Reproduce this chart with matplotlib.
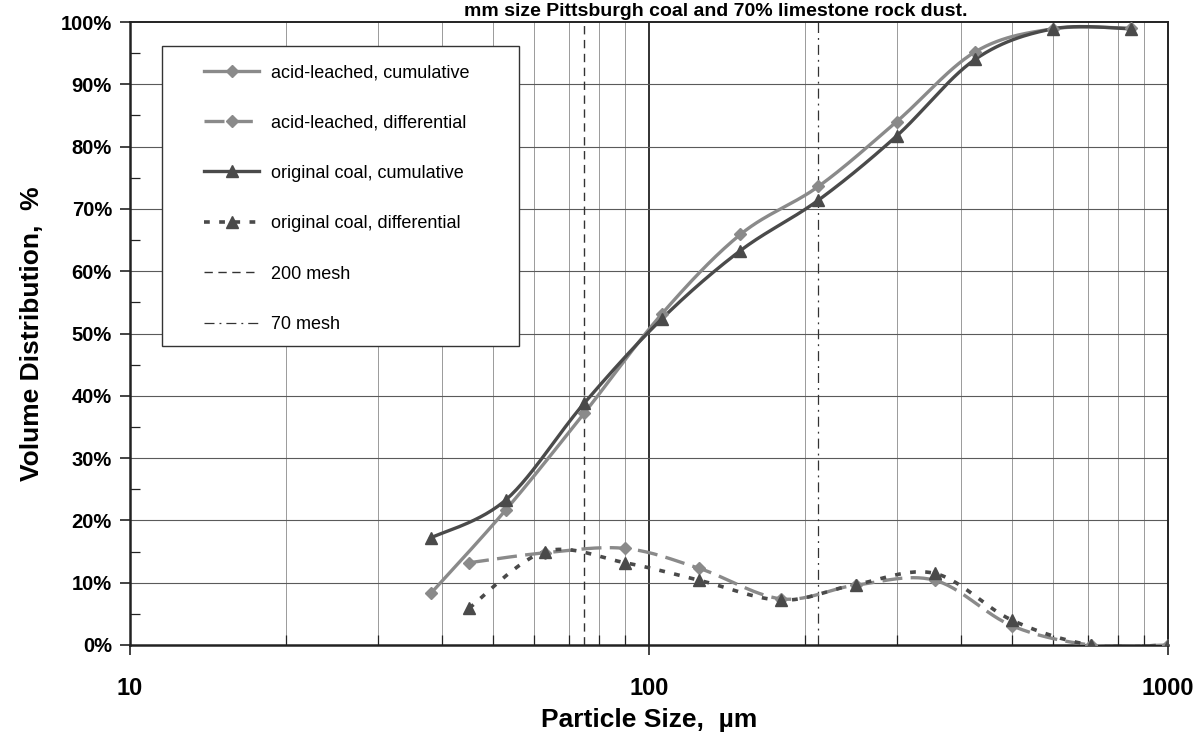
import numpy as np
import matplotlib.pyplot as plt
from matplotlib.lines import Line2D
from matplotlib.patches import Rectangle
from matplotlib.ticker import FixedLocator, NullFormatter, FuncFormatter

# Data (particle size in um, volume %)
cum_size = [38, 53, 75, 106, 150, 212, 300, 425, 600, 850]
diff_size = [45, 63, 90, 125, 180, 250, 355, 500, 710, 1000]
acid_cum = [8.3, 21.7, 37.2, 53.2, 65.9, 73.6, 84.0, 95.2, 98.9, 99.0]
coal_cum = [17.2, 23.3, 38.8, 52.4, 63.3, 71.4, 81.7, 94.0, 98.9, 98.9]
acid_diff = [13.2, 14.8, 15.5, 12.3, 7.4, 9.6, 10.4, 3.1, 0.0, 0.0]
coal_diff = [5.9, 15.0, 13.2, 10.4, 7.2, 9.7, 11.5, 4.0, 0.0, 0.0]
mesh_200 = 75
mesh_70 = 212

labels = ['acid-leached, cumulative', 'acid-leached, differential',
          'original coal, cumulative', 'original coal, differential',
          '200 mesh', '70 mesh']

LIGHT = '#8a8a8a'
DARK = '#4a4a4a'
NARROW = ['Liberation Sans Narrow', 'Liberation Sans', 'DejaVu Sans']


def smooth(xs, ys, n=30):
    """Excel-like smoothed line: cubic Bezier through the points, built in
    screen-like units (log x)."""
    u = np.log10(xs) * 519.0
    v = np.asarray(ys, dtype=float) * 6.23
    pts = np.column_stack([u, v])
    p = np.vstack([pts[0], pts, pts[-1]])
    t = np.linspace(0, 1, n)[:, None]
    out = []
    for i in range(1, len(p) - 2):
        p0, p1, p2, p3 = p[i - 1], p[i], p[i + 1], p[i + 2]
        c1 = p1 + (p2 - p0) / 6
        c2 = p2 - (p3 - p1) / 6
        seg = (1 - t)**3 * p1 + 3 * (1 - t)**2 * t * c1 + 3 * (1 - t) * t**2 * c2 + t**3 * p2
        out.append(seg if i == 1 else seg[1:])
    seg = np.vstack(out)
    return 10 ** (seg[:, 0] / 519.0), seg[:, 1] / 6.23


plt.rcParams['font.family'] = ['Liberation Sans', 'DejaVu Sans']

fig = plt.figure(figsize=(11.93, 7.42), dpi=100)
ax = fig.add_axes([130 / 1193, 97 / 742, 1038 / 1193, 623 / 742])

ax.set_xscale('log')
ax.set_xlim(10, 1000)
ax.set_ylim(0, 100)

# grid
minor_x = [k * 10**d for d in (1, 2) for k in range(2, 10)]
for xv in minor_x:
    ax.axvline(xv, color='#9a9a9a', lw=0.7, zorder=1)
ax.axvline(100, color='#222222', lw=1.3, zorder=1)
for yv in range(10, 100, 10):
    ax.axhline(yv, color='#5a5a5a', lw=0.8, zorder=1)

# mesh lines
ax.axvline(mesh_200, color='#333333', lw=1.0, ls=(0, (6, 4)), zorder=2)
ax.axvline(mesh_70, color='#333333', lw=0.9, ls=(0, (8, 4, 1.5, 4)), zorder=2)

# curves
sx, sy = smooth(cum_size, acid_cum)
ax.plot(sx, sy, color=LIGHT, lw=2.4, zorder=3)
sx, sy = smooth(diff_size, acid_diff)
ax.plot(sx, sy, color=LIGHT, lw=2.4, ls=(0, (6, 2.5)), zorder=3)
sx, sy = smooth(cum_size, coal_cum)
ax.plot(sx, sy, color=DARK, lw=2.4, zorder=3)
sx, sy = smooth(diff_size, coal_diff)
ax.plot(sx, sy, color=DARK, lw=2.6, ls=(0, (1.6, 2.6)), zorder=3)

ax.plot(cum_size, acid_cum, 'D', color=LIGHT, ms=6, zorder=4)
ax.plot(diff_size, acid_diff, 'D', color=LIGHT, ms=6, zorder=4)
ax.plot(cum_size, coal_cum, '^', color=DARK, ms=8, zorder=4)
ax.plot(diff_size, coal_diff, '^', color=DARK, ms=8, zorder=4)

# ticks
ax.xaxis.set_major_locator(FixedLocator([10, 100, 1000]))
ax.xaxis.set_minor_locator(FixedLocator(minor_x))
ax.xaxis.set_major_formatter(FuncFormatter(lambda v, p: f'{v:.0f}'))
ax.xaxis.set_minor_formatter(NullFormatter())
ax.yaxis.set_major_locator(FixedLocator(range(0, 101, 10)))
ax.yaxis.set_minor_locator(FixedLocator(range(5, 100, 10)))
ax.yaxis.set_major_formatter(FuncFormatter(lambda v, p: f'{v:.0f}%'))

ax.tick_params(axis='both', which='major', direction='out', length=7, width=1.2, color='#222222')
ax.tick_params(axis='both', which='minor', direction='in', length=7, width=0.9, color='#222222')
ax.tick_params(axis='y', which='major', labelsize=14.5, pad=6)
ax.tick_params(axis='x', which='major', labelsize=17, pad=16)
for lab in ax.get_yticklabels():
    lab.set_fontweight('bold')
for lab in ax.get_xticklabels():
    lab.set_fontweight('bold')
    lab.set_family(NARROW)

for side in ('left', 'bottom'):
    ax.spines[side].set_linewidth(1.8)
    ax.spines[side].set_color('#222222')
for side in ('top', 'right'):
    ax.spines[side].set_linewidth(1.4)
    ax.spines[side].set_color('#222222')

ax.set_xlabel('Particle Size,  µm', fontsize=19, fontweight='bold', family=NARROW, labelpad=6)
ax.set_ylabel('Volume Distribution,  %', fontsize=19, fontweight='bold', family=NARROW, labelpad=12)

# title at the very top edge (the scan cuts it off)
fig.text(968 / 1193, 1 - 16 / 742, 'mm size Pittsburgh coal and 70% limestone rock dust.',
         ha='right', va='baseline', fontsize=14, fontweight='bold')

# legend box and entries
ax.add_patch(Rectangle((162 / 1193, 1 - 346 / 742), 357 / 1193, 300 / 742,
                       transform=fig.transFigure, facecolor='white',
                       edgecolor='#333333', lw=1.0, zorder=5, clip_on=False))
handles = [
    Line2D([], [], color=LIGHT, lw=2.4, marker='D', ms=6),
    Line2D([], [], color=LIGHT, lw=2.4, ls=(0, (6, 2.5)), marker='D', ms=6),
    Line2D([], [], color=DARK, lw=2.4, marker='^', ms=8),
    Line2D([], [], color=DARK, lw=2.6, ls=(0, (1.6, 2.6)), marker='^', ms=8),
    Line2D([], [], color='#333333', lw=1.0, ls=(0, (6, 4))),
    Line2D([], [], color='#333333', lw=0.9, ls=(0, (8, 4, 1.5, 4))),
]
leg = ax.legend(handles, labels, loc='upper left',
                bbox_to_anchor=(204 / 1193, 1 - 64 / 742),
                bbox_transform=fig.transFigure, frameon=False,
                fontsize=13, handlelength=3.05, handletextpad=0.65,
                labelspacing=1.85, borderpad=0, borderaxespad=0)
leg.set_zorder(6)

fig.savefig('out.png', dpi=100)
